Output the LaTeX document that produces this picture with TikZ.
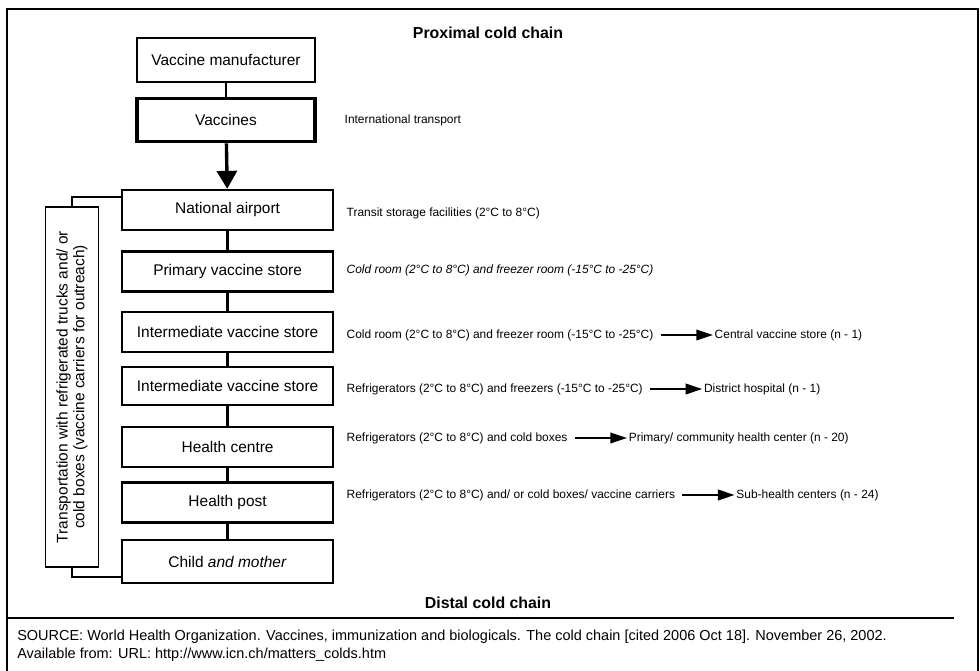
\documentclass[tikz,border=0pt]{standalone}
\usepackage{fontspec}
\setmainfont{Liberation Sans}
\usetikzlibrary{arrows.meta,graphs,positioning}

\tikzset{
  stage/.style={draw, line width=1.6pt, minimum width=5.275cm, minimum height=1cm,
    inner sep=0pt, font=\fontsize{11}{13}\selectfont},
  note/.style={anchor=west, inner sep=1pt, font=\fontsize{8.5}{10}\selectfont},
  goal/.style={inner sep=1pt, font=\fontsize{8.5}{10}\selectfont},
  heading/.style={font=\bfseries\fontsize{11.3}{13}\selectfont},
  feed/.style={-{Triangle[length=0.42cm,width=0.26cm]}, line width=1.7pt},
  link/.style={line width=1.8pt},
}

\begin{document}
\begin{tikzpicture}
  \useasboundingbox (0,0) rectangle (24.5,-16.775);
  \fill[white] (0,0) rectangle (24.5,-16.775);
  % frame and separator
  \draw[line width=2pt] (0.175,-16.9) -- (0.175,-0.225) -- (24.45,-0.225) -- (24.45,-16.9);
  \draw[line width=1.8pt] (0.175,-15.45) -- (23.85,-15.45);

  \node[heading] (prox) at (12.2,-0.825) {Proximal cold chain};
  \node[heading] (dist) at (12.2,-15.075) {Distal cold chain};

  % the chain
  \node[stage, line width=0.8pt, minimum width=4.45cm, minimum height=1.1cm] (mfr) at (5.65,-1.5) {Vaccine manufacturer};
  \node[stage, line width=2.2pt, minimum width=4.45cm, minimum height=1.075cm] (vac) at (5.65,-3.01) {Vaccines};
  \node[stage] (air) at (5.69,-5.25) {National airport};
  \node[stage] (prim) at (5.69,-6.79) {Primary vaccine store};
  \node[stage] (inta) at (5.69,-8.3) {Intermediate vaccine store};
  \node[stage, minimum height=0.95cm] (intb) at (5.69,-9.65) {Intermediate vaccine store};
  \node[stage] (hc) at (5.69,-11.175) {Health centre};
  \node[stage] (hp) at (5.69,-12.56) {Health post};
  \node[stage, minimum height=1.075cm] (cm) at (5.69,-14.04) {Child \textit{and mother}};

  \node[draw, line width=1.4pt, rotate=90, minimum width=9cm, minimum height=1.325cm,
    inner sep=0pt, align=center, font=\fontsize{11}{12}\selectfont] (side) at (1.8,-9.675)
    {Transportation with refrigerated trucks and/ or\\cold boxes (vaccine carriers for outreach)};

  % storage notes
  \node[note] (intl) at (8.575,-3.0) {International transport};
  \node[note] (tra) at (8.625,-5.325) {Transit storage facilities (2°C to 8°C)};
  \node[note, font=\itshape\fontsize{8.5}{10}\selectfont] (pn) at (8.625,-6.75) {Cold room (2°C to 8°C) and freezer room (-15°C to -25°C)};
  \node[note] (na) at (8.625,-8.375) {Cold room (2°C to 8°C) and freezer room (-15°C to -25°C)};
  \node[note] (nb) at (8.625,-9.725) {Refrigerators (2°C to 8°C) and freezers (-15°C to -25°C)};
  \node[note] (nc) at (8.625,-10.95) {Refrigerators (2°C to 8°C) and cold boxes};
  \node[note] (nd) at (8.625,-12.375) {Refrigerators (2°C to 8°C) and/ or cold boxes/ vaccine carriers};

  \node[goal, right=1.45cm of na, anchor=west] (ga) {Central vaccine store (n - 1)};
  \node[goal, right=1.45cm of nb, anchor=west] (gb) {District hospital (n - 1)};
  \node[goal, right=1.45cm of nc, anchor=west] (gc) {Primary/ community health center (n - 20)};
  \node[goal, right=1.45cm of nd, anchor=west] (gd) {Sub-health centers (n - 24)};

  \graph[use existing nodes] {
    mfr --[link] vac;
    vac ->[line width=2.4pt, -{Triangle[length=0.45cm,width=0.5cm]}] air;
    air --[link] prim --[link] inta --[link] intb --[link] hc --[link] hp --[link] cm;
    na ->[feed, shorten <=4pt] ga;
    nb ->[feed, shorten <=4pt] gb;
    nc ->[feed, shorten <=4pt] gc;
    nd ->[feed, shorten <=4pt] gd;
  };
  \draw[line width=1.4pt] (side) |- (air.173);
  \draw[line width=1.4pt] (side) |- (cm.188);

  \node[anchor=west, align=left, inner sep=0pt, font=\fontsize{10.3}{12.8}\selectfont] (src) at (0.425,-16.15)
    {SOURCE: World Health Organization. Vaccines, immunization and biologicals. The cold chain [cited 2006 Oct 18]. November 26, 2002.\\
     Available from: URL: http://www.icn.ch/matters\_colds.htm};
\end{tikzpicture}
\end{document}
